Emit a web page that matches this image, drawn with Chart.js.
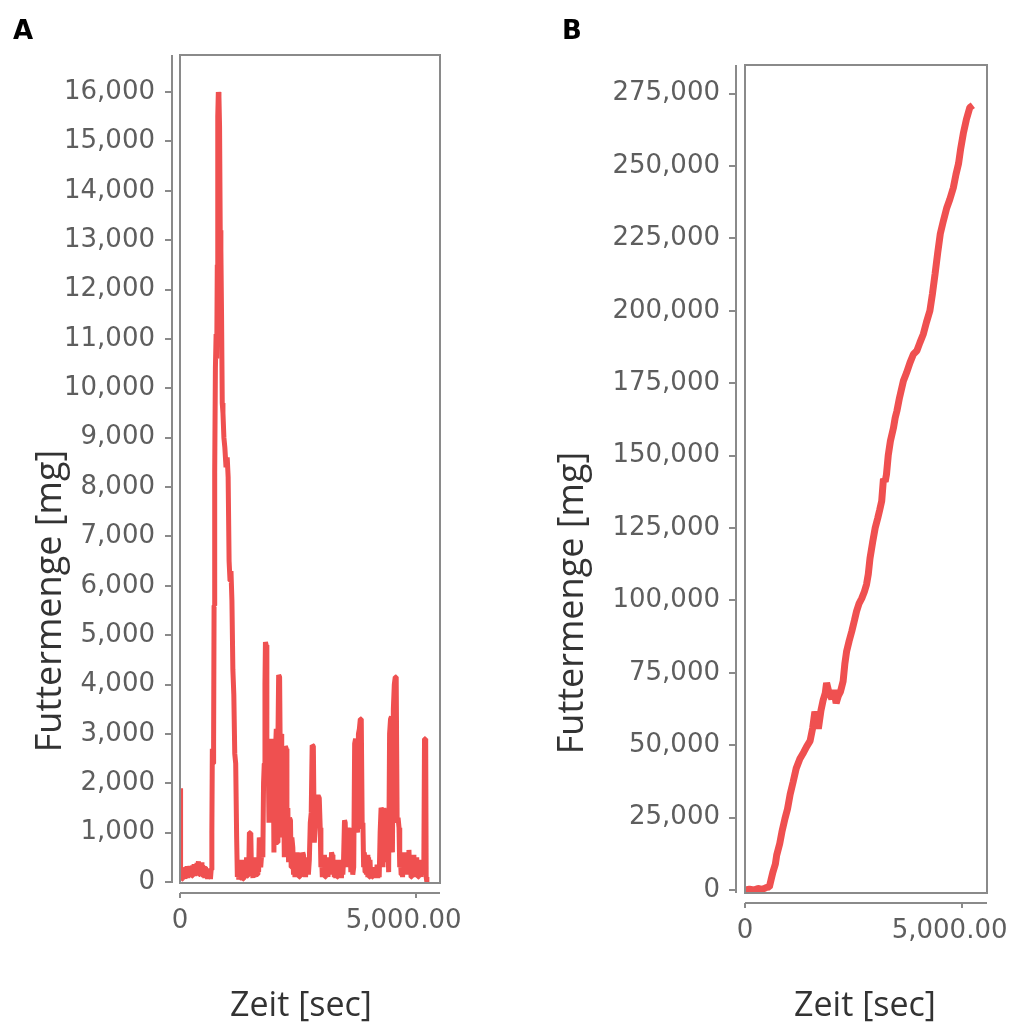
<!DOCTYPE html>
<html>
<head>
<meta charset="utf-8">
<script src="https://cdn.jsdelivr.net/npm/chart.js@4.4.1/dist/chart.umd.min.js"></script>
<style>
  html, body { margin: 0; padding: 0; background: #ffffff; }
  #wrap { position: relative; width: 1018px; height: 1025px; overflow: hidden; }
  canvas { position: absolute; top: 0; }
  #chartA { left: 0; }
  #chartB { left: 500px; }
</style>
</head>
<body>
<div id="wrap">
  <canvas id="chartA" width="500" height="1025"></canvas>
  <canvas id="chartB" width="518" height="1025"></canvas>
</div>
<script>
// Panel A: feed amount per interval [mg] over time [sec]
const timesA = [
  0, 8, 16, 30, 45, 60, 75, 90, 105, 120, 135, 150, 165, 180, 195, 210, 225, 240, 255, 270,
  285, 300, 315, 330, 345, 360, 375, 390, 405, 420, 435, 450, 465, 480, 495, 510, 525, 540, 555, 570,
  585, 600, 615, 630, 645, 660, 675, 685, 700, 712, 722, 735, 750, 765, 778, 790, 800, 812, 825, 838,
  852, 866, 880, 895, 910, 930, 950, 975, 1000, 1020, 1040, 1060, 1080, 1100, 1120, 1140, 1160, 1180, 1200, 1215,
  1230, 1245, 1260, 1275, 1290, 1305, 1320, 1335, 1350, 1365, 1380, 1395, 1410, 1425, 1440, 1455, 1470, 1485, 1500, 1515,
  1530, 1545, 1560, 1575, 1590, 1605, 1620, 1635, 1650, 1665, 1680, 1695, 1710, 1725, 1740, 1755, 1770, 1785, 1800, 1810,
  1825, 1840, 1855, 1870, 1885, 1900, 1915, 1930, 1945, 1960, 1975, 1990, 2005, 2020, 2040, 2060, 2075, 2090, 2110, 2125,
  2140, 2155, 2170, 2190, 2210, 2230, 2250, 2265, 2285, 2300, 2320, 2340, 2355, 2370, 2390, 2405, 2420, 2435, 2450, 2465,
  2480, 2495, 2510, 2525, 2540, 2555, 2570, 2585, 2600, 2615, 2630, 2645, 2660, 2675, 2690, 2705, 2720, 2740, 2760, 2780,
  2800, 2825, 2845, 2870, 2900, 2925, 2950, 2970, 2985, 3000, 3015, 3030, 3045, 3060, 3075, 3090, 3105, 3120, 3135, 3150,
  3165, 3180, 3195, 3210, 3225, 3240, 3255, 3270, 3285, 3300, 3315, 3330, 3345, 3360, 3375, 3390, 3405, 3420, 3435, 3450,
  3465, 3485, 3500, 3520, 3540, 3560, 3580, 3600, 3620, 3640, 3660, 3680, 3700, 3720, 3740, 3760, 3780, 3800, 3820, 3840,
  3860, 3875, 3890, 3905, 3920, 3935, 3950, 3965, 3980, 3995, 4010, 4025, 4040, 4055, 4070, 4085, 4100, 4115, 4130, 4145,
  4160, 4175, 4190, 4205, 4220, 4240, 4260, 4280, 4300, 4320, 4340, 4360, 4380, 4400, 4420, 4440, 4460, 4480, 4500, 4520,
  4540, 4560, 4580, 4600, 4620, 4640, 4655, 4670, 4685, 4700, 4715, 4730, 4745, 4760, 4775, 4790, 4805, 4820, 4835, 4850,
  4865, 4880, 4895, 4910, 4925, 4940, 4955, 4970, 4985, 5000, 5015, 5030, 5045, 5060, 5075, 5090, 5105, 5120, 5135, 5150,
  5165, 5180, 5195, 5205, 5215, 5230
];
const feedA = [
  1900, 1700, 100, 220, 60, 260, 100, 280, 60, 300, 120, 320, 80, 300, 150, 330, 100, 310, 120, 340,
  150, 360, 120, 350, 180, 390, 200, 420, 150, 380, 220, 400, 120, 340, 100, 320, 80, 300, 120, 280,
  60, 260, 100, 250, 60, 250, 1000, 2700, 2400, 2800, 5600, 8300, 10400, 11100, 10600, 12500, 15500, 16000, 15900, 15300,
  13200, 12800, 11500, 9700, 9500, 9000, 8800, 8400, 8600, 8200, 6500, 6100, 6300, 5700, 4300, 3800, 2600, 2400, 900, 100,
  400, 50, 350, 80, 450, 100, 380, 60, 420, 100, 450, 80, 500, 120, 400, 150, 1000, 1000, 950, 150,
  450, 80, 500, 100, 420, 120, 500, 150, 480, 200, 900, 850, 300, 500, 900, 500, 2000, 2400, 4000, 4860,
  4800, 2500, 2300, 2400, 1200, 2100, 2000, 2900, 2800, 1500, 2700, 600, 2900, 2600, 3100, 800, 2900, 4190, 4150, 2400,
  3000, 900, 2500, 2300, 500, 2750, 2700, 1000, 1500, 400, 1300, 1250, 300, 900, 700, 150, 600, 100, 450, 200,
  600, 150, 400, 100, 500, 200, 450, 150, 600, 550, 200, 500, 100, 400, 150, 500, 150, 450, 1200, 1400,
  2770, 2750, 800, 1200, 1700, 1750, 1700, 1100, 300, 500, 100, 450, 150, 550, 100, 500, 150, 450, 100, 400,
  200, 500, 150, 600, 550, 150, 450, 100, 450, 80, 420, 100, 400, 80, 450, 150, 400, 80, 450, 150,
  450, 1250, 1200, 300, 900, 1100, 500, 700, 200, 600, 150, 300, 2800, 2900, 2700, 1000, 3000, 3100, 3300, 3300,
  1100, 1200, 300, 600, 200, 550, 150, 550, 100, 500, 100, 450, 80, 300, 100, 300, 80, 250, 100, 300,
  100, 350, 80, 300, 100, 1000, 1500, 1450, 300, 1500, 1300, 400, 1300, 1100, 200, 3000, 3300, 3350, 600, 3500,
  4000, 4150, 4150, 1200, 1300, 1100, 300, 500, 150, 400, 100, 500, 200, 600, 250, 550, 150, 600, 300, 650,
  200, 500, 100, 400, 150, 550, 100, 300, 250, 500, 150, 400, 100, 450, 150, 350, 100, 400, 150, 300,
  200, 2900, 2900, 2800, 100, 0
];

// Panel B: cumulative feed amount [mg] over time [sec]
const timesB = [
  0, 100, 200, 300, 400, 500, 560, 600, 640, 700, 730, 800, 850, 920, 980, 1040, 1110, 1180, 1265, 1350,
  1420, 1500, 1560, 1610, 1650, 1690, 1750, 1800, 1850, 1880, 1920, 1960, 2000, 2050, 2100, 2150, 2200, 2260, 2300, 2340,
  2400, 2460, 2520, 2570, 2630, 2690, 2750, 2800, 2840, 2880, 2940, 3000, 3060, 3100, 3150, 3190, 3230, 3260, 3300, 3350,
  3420, 3460, 3500, 3560, 3650, 3720, 3800, 3880, 3960, 4030, 4110, 4180, 4260, 4320, 4380, 4440, 4500, 4570, 4650, 4720,
  4800, 4860, 4920, 4970, 5030, 5100, 5180, 5250
];
const feedB = [
  0, 300, 0, 500, 200, 900, 1000, 3500, 6000, 9000, 12000, 16000, 20000, 24600, 28000, 33000, 37400, 42000, 45300, 47500,
  49500, 51500, 56000, 61600, 59000, 55700, 62000, 65500, 68000, 71500, 69000, 67500, 66000, 69000, 64500, 67000, 68500, 72000, 78000, 82300,
  86000, 89300, 93000, 96200, 99000, 100700, 103000, 105500, 109000, 114500, 120000, 125000, 128500, 131000, 134300, 142000, 141000, 143500, 150000, 155000,
  159500, 163000, 165400, 170000, 175800, 178500, 182000, 185000, 186200, 189000, 192000, 196000, 200000, 206000, 212800, 220000, 226600, 231000, 235600, 238500,
  242500, 247000, 250800, 256000, 261200, 266000, 270200, 271000
];

// Axis ticks and labels
const xTicks = [0, 5000];
const xTickLabels = ['0', '5,000.00'];
const yTicksA = [0, 1000, 2000, 3000, 4000, 5000, 6000, 7000, 8000, 9000, 10000, 11000, 12000, 13000, 14000, 15000, 16000];
const yTicksB = [0, 25000, 50000, 75000, 100000, 125000, 150000, 175000, 200000, 225000, 250000, 275000];
const xTitle = 'Zeit [sec]';
const yTitle = 'Futtermenge [mg]';

const LINE_RED = '#ef5050';
const FRAME_GREY = '#8a8a8a';
const TICK_GREY = '#5e5e5e';
const TITLE_GREY = '#333333';
const TICK_FONT = { family: '"DejaVu Sans", Verdana, sans-serif', size: 26, weight: 'normal' };

// Frame around the plot, detached axis lines with tick marks, titles and panel letter
const decorPlugin = {
  id: 'decor',
  afterDatasetsDraw(chart, args, o) {
    const ctx = chart.ctx;
    const a = chart.chartArea;
    const xs = chart.scales.x;
    const ys = chart.scales.y;
    ctx.save();
    ctx.strokeStyle = FRAME_GREY;
    ctx.lineWidth = 2;
    ctx.strokeRect(a.left, a.top, a.right - a.left, a.bottom - a.top);

    const axX = a.left - o.yGap;
    const axY = a.bottom + o.xGap;
    ctx.beginPath();
    ctx.moveTo(axX, a.top);
    ctx.lineTo(axX, a.bottom);
    ys.ticks.forEach(t => {
      const p = Math.round(ys.getPixelForValue(t.value));
      ctx.moveTo(axX - 7, p);
      ctx.lineTo(axX, p);
    });
    ctx.moveTo(a.left, axY);
    ctx.lineTo(a.right, axY);
    xs.ticks.forEach(t => {
      const p = Math.round(xs.getPixelForValue(t.value));
      ctx.moveTo(p, axY);
      ctx.lineTo(p, axY + 5);
    });
    ctx.stroke();

    ctx.fillStyle = TITLE_GREY;
    ctx.textAlign = 'center';
    ctx.textBaseline = 'middle';
    ctx.font = '34px "Open Sans", "Noto Sans", sans-serif';
    ctx.fillText(xTitle, o.xTitlePos[0], o.xTitlePos[1]);
    ctx.save();
    ctx.font = '36px "Open Sans", "Noto Sans", sans-serif';
    ctx.translate(o.yTitlePos[0], o.yTitlePos[1]);
    ctx.rotate(-Math.PI / 2);
    ctx.fillText(yTitle, 0, 0);
    ctx.restore();

    ctx.fillStyle = '#000000';
    ctx.font = 'bold 26px "DejaVu Sans", sans-serif';
    ctx.textAlign = 'left';
    ctx.textBaseline = 'alphabetic';
    ctx.fillText(o.letter, o.letterPos[0], o.letterPos[1]);
    ctx.restore();
  }
};

// Fixed axis sizes so the plot area lands exactly where it should
function pinAxis(s, size, horizontal) {
  if (horizontal) { s.height = size; } else { s.width = size; }
  s.paddingLeft = 0;
  s.paddingRight = 0;
  s.paddingTop = 0;
  s.paddingBottom = 0;
}

function makePanel(canvas, cfg) {
  const area = cfg.area;
  const points = cfg.times.map((t, i) => ({ x: t, y: cfg.values[i] }));
  return new Chart(canvas, {
    type: 'line',
    data: {
      datasets: [{
        data: points,
        borderColor: LINE_RED,
        borderWidth: cfg.lineWidth,
        borderJoinStyle: 'bevel',
        pointRadius: 0,
        tension: 0,
        fill: false
      }]
    },
    options: {
      responsive: false,
      animation: false,
      events: [],
      layout: { padding: { left: 0, top: area.top, right: canvas.width - area.right, bottom: 0 } },
      plugins: {
        legend: { display: false },
        tooltip: { enabled: false },
        decor: cfg.decor
      },
      scales: {
        x: {
          type: 'linear',
          min: 0,
          max: cfg.xMax,
          grid: { display: false, drawTicks: false },
          border: { display: false },
          afterFit: s => pinAxis(s, canvas.height - area.bottom, true),
          afterBuildTicks: s => { s.ticks = xTicks.map(v => ({ value: v })); },
          ticks: {
            autoSkip: false,
            maxRotation: 0,
            padding: 23,
            color: TICK_GREY,
            font: TICK_FONT,
            callback: v => {
              const label = xTickLabels[xTicks.indexOf(v)];
              return v > 0 ? label + '\u00a0\u00a0\u00a0' : label;
            }
          }
        },
        y: {
          type: 'linear',
          min: cfg.yMin,
          max: cfg.yMax,
          grid: { display: false, drawTicks: false },
          border: { display: false },
          afterFit: s => pinAxis(s, area.left, false),
          afterBuildTicks: s => { s.ticks = cfg.yTicks.map(v => ({ value: v })); },
          ticks: {
            autoSkip: false,
            padding: 25,
            color: TICK_GREY,
            font: TICK_FONT,
            callback: v => v.toLocaleString('en-US')
          }
        }
      }
    },
    plugins: [decorPlugin]
  });
}

makePanel(document.getElementById('chartA'), {
  times: timesA,
  values: feedA,
  yTicks: yTicksA,
  area: { left: 180, right: 440, top: 55, bottom: 883 },
  xMax: 5508,
  yMin: -20,
  yMax: 16750,
  lineWidth: 5,
  decor: { yGap: 8, xGap: 10, xTitlePos: [301, 1006], yTitlePos: [51, 601], letter: 'A', letterPos: [13, 39] }
});

makePanel(document.getElementById('chartB'), {
  times: timesB,
  values: feedB,
  yTicks: yTicksB,
  area: { left: 245, right: 487, top: 65, bottom: 893 },
  xMax: 5576,
  yMin: -1036,
  yMax: 284870,
  lineWidth: 7,
  decor: { yGap: 9, xGap: 10, xTitlePos: [365, 1006], yTitlePos: [73, 603], letter: 'B', letterPos: [62, 39] }
});
</script>
</body>
</html>
